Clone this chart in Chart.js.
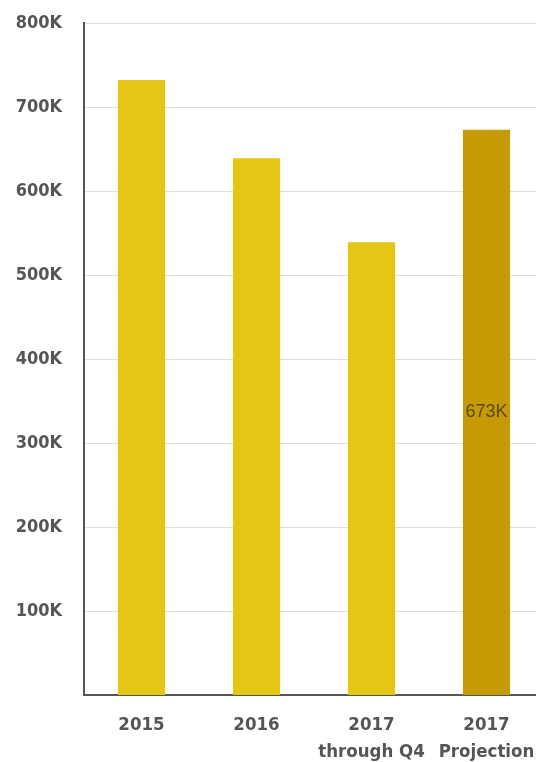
<!DOCTYPE html>
<html>
<head>
<meta charset="utf-8">
<script src="https://cdn.jsdelivr.net/npm/chart.js@4/dist/chart.umd.min.js"></script>
<style>
  html, body { margin: 0; padding: 0; background: #fff; overflow: hidden; }
  #wrap { width: 544px; height: 762px; }
</style>
</head>
<body>
<div id="wrap"><canvas id="salesChart"></canvas></div>
<script>
var categories = [['2015'], ['2016'], ['2017', 'through Q4'], ['2017', 'Projection']];
var totals = [732000, 639000, 539000, 673000];
var barColors = ['#E5C615', '#E5C615', '#E5C615', '#C59A04'];
var labelledBars = [3];
var yTicks = [100000, 200000, 300000, 400000, 500000, 600000, 700000, 800000];

var narrowFont = '"Liberation Sans Narrow", "Arial Narrow", "DejaVu Sans Condensed", sans-serif';

function kLabel(v){
	return Math.round(v / 1000) + 'K';
}

// writes the value in the middle of selected bars
var midLabels = {
	id: 'midLabels',
	afterDatasetsDraw: function(chart){
		var ctx = chart.ctx;
		var meta = chart.getDatasetMeta(0);
		ctx.save();
		ctx.font = '18px "Liberation Sans", Arial, sans-serif';
		ctx.fillStyle = '#5b4a12';
		ctx.textAlign = 'center';
		ctx.textBaseline = 'middle';
		labelledBars.forEach(i => {
			var bar = meta.data[i];
			ctx.fillText(kLabel(totals[i]), bar.x, (bar.y + bar.base) / 2);
		});
		ctx.restore();
	}
};

// invisible tick marks give the label gap without padding the chart area
new Chart(document.getElementById('salesChart'), {
	type: 'bar',
	data: {
		labels: categories,
		datasets: [{
			data: totals,
			backgroundColor: barColors,
			barPercentage: 0.41,
			categoryPercentage: 1
		}]
	},
	options: {
		responsive: true,
		maintainAspectRatio: false,
		animation: false,
		layout: { padding: { top: 23, left: 0, right: 0, bottom: 0 } },
		plugins: { legend: { display: false }, tooltip: { enabled: false } },
		scales: {
			x: {
				grid: { display: true, drawOnChartArea: false, drawTicks: true, tickLength: 17, tickColor: 'transparent' },
				border: { display: true, color: '#555', width: 2 },
				ticks: {
					padding: 0,
					color: '#555',
					font: { family: narrowFont, size: 18.5, weight: 'bold', lineHeight: 1.45 },
					maxRotation: 0,
					autoSkip: false
				},
				afterFit: function(scale){ scale.height = 67; }
			},
			y: {
				min: 0,
				max: 800000,
				afterBuildTicks: function(scale){
					scale.ticks = yTicks.map(v => ({ value: v }));
				},
				grid: { color: '#e0e0e0', lineWidth: 1, drawTicks: true, tickLength: 22, tickColor: 'transparent' },
				border: { display: true, color: '#555', width: 2 },
				ticks: {
					padding: 0,
					color: '#555',
					font: { family: narrowFont, size: 18, weight: 'bold' },
					callback: function(v){ return kLabel(v); }
				},
				afterFit: function(scale){ scale.width = 84; }
			}
		}
	},
	plugins: [midLabels]
});
</script>
</body>
</html>
